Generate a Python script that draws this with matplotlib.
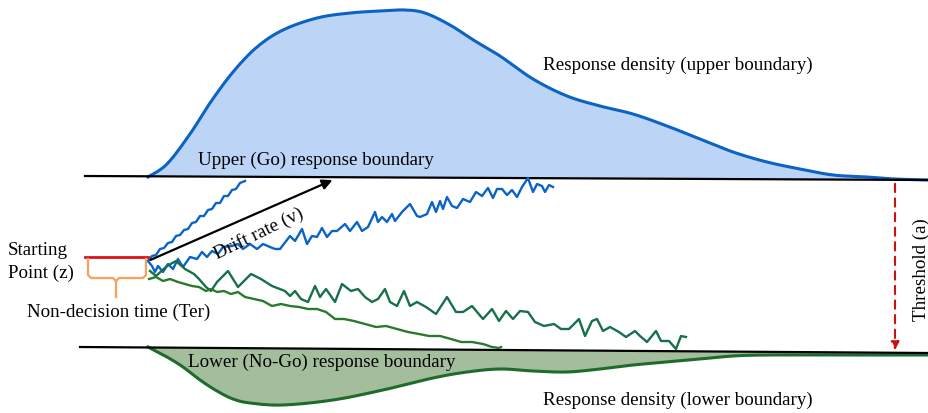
import numpy as np
import matplotlib
matplotlib.use("Agg")
import matplotlib.pyplot as plt

# todo en coordenadas de pixel de la imagen (x a la derecha, y hacia abajo)

# limites de respuesta (x, y)
upper_bound_x = [85, 929]
upper_bound_y = [177, 181]
lower_bound_x = [80, 929]
lower_bound_y = [348, 354]

# densidad de respuesta superior
dens_up_x = [148, 167, 190, 210, 233, 257, 283, 317, 350, 380, 405, 425, 450, 475,
             500, 533, 567, 600, 633, 667, 700, 733, 767, 800, 833, 867, 895, 929]
dens_up_y = [178, 165, 135, 104, 73, 48, 31, 19, 14, 12, 11, 14, 26, 42,
             57, 80, 97, 107, 115, 127, 140, 153, 163, 170, 176, 178, 180, 181]

# densidad de respuesta inferior
dens_lo_x = [148, 167, 183, 200, 217, 233, 250, 283, 333, 383, 433, 467, 500, 533,
             567, 600, 633, 667, 700, 733, 767, 833, 929]
dens_lo_y = [348, 358, 368, 381, 392, 400, 404, 406, 401, 391, 379, 373, 370, 372,
             373, 370, 366, 363, 360, 357, 356, 356, 356]

# trayectoria azul rapida
blue_fast_x = [148, 152, 156, 160, 164, 168, 172, 176, 180, 184, 188, 192, 196,
               200, 204, 208, 212, 216, 220, 224, 228, 232, 236, 240, 245]
blue_fast_y = [262, 257, 256, 250, 249, 244, 243, 237, 236, 231, 230, 224, 223,
               217, 217, 211, 210, 204, 204, 197, 197, 191, 190, 184, 182]

# trayectoria azul larga
blue_long_x = [148, 152, 155, 158, 163, 168, 173, 178, 183, 190, 197, 202, 207, 212,
               218, 223, 232, 238, 243, 250, 257, 263, 270, 275, 280, 290, 295, 302,
               307, 312, 317, 322, 327, 332, 337, 345, 350, 357, 362, 368, 375, 378,
               382, 387, 392, 395, 402, 410, 417, 420, 427, 432, 436, 440, 443, 447,
               452, 457, 463, 470, 476, 482, 488, 493, 497, 502, 507, 512, 517, 522,
               528, 533, 537, 542, 545, 549, 553]
blue_long_y = [262, 267, 273, 267, 273, 265, 270, 260, 268, 258, 260, 253, 258, 252,
               255, 248, 247, 245, 250, 245, 250, 245, 248, 250, 250, 237, 242, 230,
               245, 237, 238, 229, 238, 232, 232, 225, 232, 223, 232, 228, 213, 223,
               218, 223, 215, 222, 213, 205, 217, 218, 215, 203, 213, 202, 210, 198,
               207, 209, 200, 203, 193, 197, 189, 199, 190, 190, 196, 191, 198, 188,
               179, 193, 185, 187, 193, 186, 188]

# trayectoria verde ruidosa
green_noisy_x = [150, 156, 167, 176, 185, 194, 199, 206, 211, 217, 228, 238, 251, 261,
                 272, 285, 290, 295, 301, 308, 315, 320, 326, 335, 342, 351, 358, 365,
                 372, 378, 385, 390, 397, 404, 410, 417, 426, 436, 447, 456, 463, 472,
                 483, 492, 499, 506, 513, 520, 528, 535, 544, 554, 561, 569, 579, 585,
                 592, 597, 603, 610, 619, 626, 635, 640, 647, 656, 661, 669, 676, 681, 686]
green_noisy_y = [272, 277, 267, 262, 270, 275, 280, 288, 292, 283, 272, 288, 275, 280,
                 287, 292, 297, 292, 300, 303, 287, 298, 290, 303, 285, 292, 290, 298,
                 303, 300, 290, 303, 307, 292, 307, 303, 308, 315, 298, 313, 313, 307,
                 320, 310, 322, 312, 320, 312, 313, 323, 327, 325, 330, 330, 320, 337,
                 322, 320, 332, 328, 333, 338, 332, 337, 343, 332, 342, 342, 350, 337, 338]

# trayectoria verde suave
green_smooth_x = [149, 156, 163, 170, 178, 185, 192, 199, 206, 211, 217, 224, 231, 238,
                  245, 254, 263, 272, 281, 290, 299, 308, 317, 326, 335, 344, 354, 365,
                  376, 386, 397, 408, 419, 429, 440, 451, 461, 472, 483, 492, 499, 501]
green_smooth_y = [280, 278, 282, 280, 283, 285, 287, 288, 292, 290, 293, 292, 295, 293,
                  298, 300, 302, 307, 305, 307, 308, 310, 310, 313, 320, 320, 322, 325,
                  328, 327, 330, 333, 335, 337, 337, 340, 343, 343, 345, 348, 349, 348]

serif = "Liberation Serif"
fs = 13.7


def spline(xs, ys, n=20):
    # Catmull-Rom que pasa por los puntos leidos
    p = np.column_stack([xs, ys]).astype(float)
    p = np.vstack([p[0], p, p[-1]])
    out = []
    t = np.linspace(0, 1, n, endpoint=False)[:, None]
    for i in range(1, len(p) - 2):
        p0, p1, p2, p3 = p[i - 1], p[i], p[i + 1], p[i + 2]
        seg = 0.5 * ((2 * p1) + (-p0 + p2) * t + (2 * p0 - 5 * p1 + 4 * p2 - p3) * t ** 2
                     + (-p0 + 3 * p1 - 3 * p2 + p3) * t ** 3)
        out.append(seg)
    out.append(p[-2][None, :])
    out = np.vstack(out)
    return out[:, 0], out[:, 1]


fig = plt.figure(figsize=(9.29, 4.14), dpi=100)
ax = fig.add_axes([0, 0, 1, 1])
ax.set_xlim(0, 929)
ax.set_ylim(414, 0)
ax.axis("off")

# densidades
ux, uy = spline(dens_up_x, dens_up_y)
ub = np.interp(ux, upper_bound_x, upper_bound_y)
ax.fill_between(ux, uy, ub, color="#bcd4f6", lw=0)
ax.plot(ux, uy, color="#0b63c4", lw=2.2)

lx, ly = spline(dens_lo_x, dens_lo_y)
lb = np.interp(lx, lower_bound_x, lower_bound_y)
ax.fill_between(lx, lb, ly, color="#a3bd9d", lw=0)
ax.plot(lx, ly, color="#1e6b2c", lw=2.2)

# limites
ax.plot(upper_bound_x, upper_bound_y, color="black", lw=1.6)
ax.plot(lower_bound_x, lower_bound_y, color="black", lw=1.6)

# trayectorias
ax.plot(blue_fast_x, blue_fast_y, color="#0a64c8", lw=1.7)
ax.plot(blue_long_x, blue_long_y, color="#0a64c8", lw=1.7)
ax.plot(green_noisy_x, green_noisy_y, color="#17704a", lw=1.7)
ax.plot(green_smooth_x, green_smooth_y, color="#2a7a2e", lw=1.7)

# punto de inicio y tiempo de no decision
ax.plot([85, 148], [258, 258], color="#e0101a", lw=2)
ax.plot([88, 88, 91, 113, 116], [260, 276, 279, 279, 282], color="#f7a15c", lw=1.6)
ax.plot([146, 146, 143, 119, 116], [260, 276, 279, 279, 282], color="#f7a15c", lw=1.6)
ax.plot([116, 116], [282, 298], color="#f7a15c", lw=1.6)

# flecha de tasa de deriva
ax.annotate("", xy=(335, 180), xytext=(148, 262),
            arrowprops=dict(arrowstyle="-|>", color="black", lw=1.6, mutation_scale=15))

# flecha de umbral
ax.annotate("", xy=(895, 354), xytext=(895, 182),
            arrowprops=dict(arrowstyle="-|>", color="#cc1111", lw=1.5,
                            linestyle=(0, (4, 3)), mutation_scale=12))

# textos
ax.text(8, 251, "Starting", family=serif, fontsize=fs, va="center", ha="left")
ax.text(8, 273, "Point (z)", family=serif, fontsize=fs, va="center", ha="left")
ax.text(27, 312, "Non-decision time (Ter)", family=serif, fontsize=fs, va="center", ha="left")
ax.text(259, 234, "Drift rate (v)", family=serif, fontsize=fs, va="center", ha="center",
        rotation=26, rotation_mode="anchor")
ax.text(198, 160, "Upper (Go) response boundary", family=serif, fontsize=fs, va="center")
ax.text(188, 362, "Lower (No-Go) response boundary", family=serif, fontsize=fs, va="center")
ax.text(543, 65, "Response density (upper boundary)", family=serif, fontsize=fs, va="center")
ax.text(543, 400, "Response density (lower boundary)", family=serif, fontsize=fs, va="center")
ax.text(921, 270, "Threshold (a)", family=serif, fontsize=fs, va="center", ha="center",
        rotation=90)

fig.savefig("out.png", dpi=100)
